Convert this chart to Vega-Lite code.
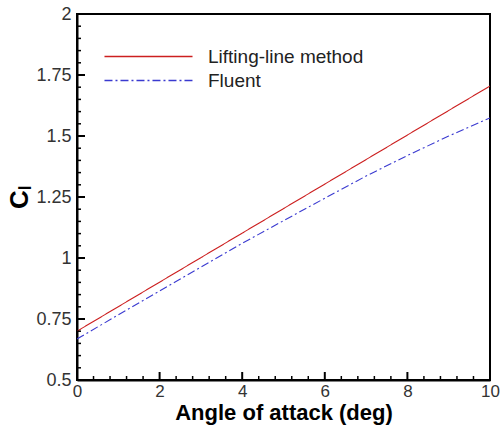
{
  "$schema": "https://vega.github.io/schema/vega-lite/v6.json",
  "width": 413,
  "height": 366,
  "autosize": "none",
  "padding": {"left": 77, "top": 14, "right": 13, "bottom": 48},
  "background": "white",
  "config": {
    "view": {"stroke": "black", "strokeWidth": 2},
    "font": "Liberation Sans"
  },
  "datasets": {
    "curves": [
      {"aoa": 0, "cl": 0.700, "method": "Lifting-line method"},
      {"aoa": 1, "cl": 0.8005, "method": "Lifting-line method"},
      {"aoa": 2, "cl": 0.901, "method": "Lifting-line method"},
      {"aoa": 3, "cl": 1.0015, "method": "Lifting-line method"},
      {"aoa": 4, "cl": 1.102, "method": "Lifting-line method"},
      {"aoa": 5, "cl": 1.2025, "method": "Lifting-line method"},
      {"aoa": 6, "cl": 1.303, "method": "Lifting-line method"},
      {"aoa": 7, "cl": 1.4035, "method": "Lifting-line method"},
      {"aoa": 8, "cl": 1.504, "method": "Lifting-line method"},
      {"aoa": 9, "cl": 1.6045, "method": "Lifting-line method"},
      {"aoa": 10, "cl": 1.705, "method": "Lifting-line method"},
      {"aoa": 0, "cl": 0.668, "method": "Fluent"},
      {"aoa": 1, "cl": 0.767, "method": "Fluent"},
      {"aoa": 2, "cl": 0.865, "method": "Fluent"},
      {"aoa": 3, "cl": 0.963, "method": "Fluent"},
      {"aoa": 4, "cl": 1.060, "method": "Fluent"},
      {"aoa": 5, "cl": 1.153, "method": "Fluent"},
      {"aoa": 6, "cl": 1.245, "method": "Fluent"},
      {"aoa": 7, "cl": 1.336, "method": "Fluent"},
      {"aoa": 8, "cl": 1.420, "method": "Fluent"},
      {"aoa": 9, "cl": 1.500, "method": "Fluent"},
      {"aoa": 10, "cl": 1.574, "method": "Fluent"}
    ],
    "xmajor": [{"aoa": 2, "cl": 0.5}, {"aoa": 4, "cl": 0.5}, {"aoa": 6, "cl": 0.5}, {"aoa": 8, "cl": 0.5}],
    "xminor": [
      {"aoa": 0.4, "cl": 0.5}, {"aoa": 0.8, "cl": 0.5}, {"aoa": 1.2, "cl": 0.5}, {"aoa": 1.6, "cl": 0.5},
      {"aoa": 2.4, "cl": 0.5}, {"aoa": 2.8, "cl": 0.5}, {"aoa": 3.2, "cl": 0.5}, {"aoa": 3.6, "cl": 0.5},
      {"aoa": 4.4, "cl": 0.5}, {"aoa": 4.8, "cl": 0.5}, {"aoa": 5.2, "cl": 0.5}, {"aoa": 5.6, "cl": 0.5},
      {"aoa": 6.4, "cl": 0.5}, {"aoa": 6.8, "cl": 0.5}, {"aoa": 7.2, "cl": 0.5}, {"aoa": 7.6, "cl": 0.5},
      {"aoa": 8.4, "cl": 0.5}, {"aoa": 8.8, "cl": 0.5}, {"aoa": 9.2, "cl": 0.5}, {"aoa": 9.6, "cl": 0.5}
    ],
    "ymajor": [{"aoa": 0, "cl": 0.75}, {"aoa": 0, "cl": 1}, {"aoa": 0, "cl": 1.25}, {"aoa": 0, "cl": 1.5}, {"aoa": 0, "cl": 1.75}],
    "yminor": [
      {"aoa": 0, "cl": 0.55}, {"aoa": 0, "cl": 0.6}, {"aoa": 0, "cl": 0.65}, {"aoa": 0, "cl": 0.7},
      {"aoa": 0, "cl": 0.8}, {"aoa": 0, "cl": 0.85}, {"aoa": 0, "cl": 0.9}, {"aoa": 0, "cl": 0.95},
      {"aoa": 0, "cl": 1.05}, {"aoa": 0, "cl": 1.1}, {"aoa": 0, "cl": 1.15}, {"aoa": 0, "cl": 1.2},
      {"aoa": 0, "cl": 1.3}, {"aoa": 0, "cl": 1.35}, {"aoa": 0, "cl": 1.4}, {"aoa": 0, "cl": 1.45},
      {"aoa": 0, "cl": 1.55}, {"aoa": 0, "cl": 1.6}, {"aoa": 0, "cl": 1.65}, {"aoa": 0, "cl": 1.7},
      {"aoa": 0, "cl": 1.8}, {"aoa": 0, "cl": 1.85}, {"aoa": 0, "cl": 1.9}, {"aoa": 0, "cl": 1.95}
    ]
  },
  "layer": [
    {
      "data": {"name": "curves"},
      "mark": {"type": "line", "strokeWidth": 1.1, "clip": true},
      "encoding": {
        "x": {
          "field": "aoa",
          "type": "quantitative",
          "scale": {"domain": [0, 10], "nice": false, "zero": false},
          "axis": {
            "title": "Angle of attack (deg)",
            "titleFont": "Liberation Sans",
            "titleFontSize": 22,
            "titleFontWeight": "bold",
            "titleColor": "black",
            "titlePadding": 3,
            "values": [0, 2, 4, 6, 8, 10],
            "format": "d",
            "labelFontSize": 17,
            "labelColor": "#333333",
            "labelPadding": 3,
            "labelOverlap": false,
            "labelFlush": false,
            "labelBound": false,
            "domainColor": "black",
            "domainWidth": 2,
            "ticks": false,
            "grid": false
          }
        },
        "y": {
          "field": "cl",
          "type": "quantitative",
          "scale": {"domain": [0.5, 2], "nice": false, "zero": false},
          "axis": {
            "title": "Cₗ",
            "titleFont": "Liberation Sans",
            "titleFontSize": 26,
            "titleFontWeight": "bold",
            "titleColor": "black",
            "titlePadding": 3,
            "values": [0.5, 0.75, 1, 1.25, 1.5, 1.75, 2],
            "format": ".2~f",
            "labelFontSize": 18,
            "labelColor": "#333333",
            "labelPadding": 6,
            "labelOverlap": false,
            "labelFlush": false,
            "labelBound": false,
            "domainColor": "black",
            "domainWidth": 2,
            "ticks": false,
            "grid": false
          }
        },
        "color": {
          "field": "method",
          "type": "nominal",
          "scale": {"domain": ["Lifting-line method", "Fluent"], "range": ["#cc1f1f", "#3a3ad0"]},
          "legend": {
            "title": null,
            "orient": "none",
            "legendX": 62,
            "legendY": 33,
            "symbolType": "M-5,0H5",
            "symbolSize": 310,
            "symbolStrokeWidth": 1.3,
            "labelFontSize": 19,
            "labelColor": "#222222",
            "labelOffset": 50,
            "rowPadding": 4
          }
        },
        "strokeDash": {
          "field": "method",
          "type": "nominal",
          "scale": {"domain": ["Lifting-line method", "Fluent"], "range": [[1, 0], [8, 3, 2, 3]]},
          "legend": null
        }
      }
    },
    {
      "data": {"name": "xmajor"},
      "mark": {"type": "point", "shape": "M0,0V-2", "size": 64, "filled": false, "stroke": "black", "strokeWidth": 2, "opacity": 1},
      "encoding": {
        "x": {"field": "aoa", "type": "quantitative"},
        "y": {"field": "cl", "type": "quantitative"}
      }
    },
    {
      "data": {"name": "xminor"},
      "mark": {"type": "point", "shape": "M0,0V-2", "size": 16, "filled": false, "stroke": "black", "strokeWidth": 1.5, "opacity": 1},
      "encoding": {
        "x": {"field": "aoa", "type": "quantitative"},
        "y": {"field": "cl", "type": "quantitative"}
      }
    },
    {
      "data": {"name": "ymajor"},
      "mark": {"type": "point", "shape": "M0,0H2", "size": 64, "filled": false, "stroke": "black", "strokeWidth": 2, "opacity": 1},
      "encoding": {
        "x": {"field": "aoa", "type": "quantitative"},
        "y": {"field": "cl", "type": "quantitative"}
      }
    },
    {
      "data": {"name": "yminor"},
      "mark": {"type": "point", "shape": "M0,0H2", "size": 16, "filled": false, "stroke": "black", "strokeWidth": 1.5, "opacity": 1},
      "encoding": {
        "x": {"field": "aoa", "type": "quantitative"},
        "y": {"field": "cl", "type": "quantitative"}
      }
    }
  ]
}
